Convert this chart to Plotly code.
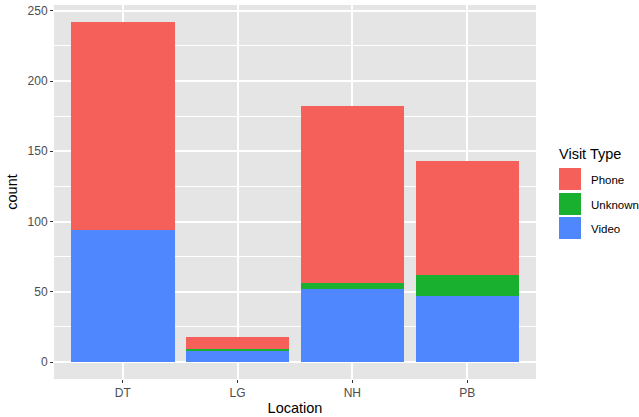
import plotly.graph_objects as go

locations = ["DT", "LG", "NH", "PB"]
visit_types = ["Phone", "Unknown", "Video"]
phone = [148, 9, 126, 81]
unknown = [0, 1, 4, 15]
video = [94, 8, 52, 47]
colors = {"Phone": "#F5605B", "Unknown": "#19B02F", "Video": "#4F87FF"}
y_ticks = [0, 50, 100, 150, 200, 250]

W, H = 639, 417
L, R, T, B = 54, 536, 5, 379

fig = go.Figure()
series = {"Phone": phone, "Unknown": unknown, "Video": video}
for vt in ["Video", "Unknown", "Phone"]:
    fig.add_trace(go.Bar(x=locations, y=series[vt], name=vt, width=0.9,
                         marker=dict(color=colors[vt], line=dict(width=0)),
                         showlegend=False))

totals = [p + u + v for p, u, v in zip(phone, unknown, video)]
ymax = max(totals)
pad = ymax * 0.05

def px(x):
    return (x - L) / (R - L)

def py(y):
    return (B - y) / (B - T)

shapes = []
annotations = []
annotations.append(dict(text="Visit Type", x=px(557), y=py(154), xref="paper", yref="paper",
                        xanchor="left", yanchor="middle", showarrow=False,
                        font=dict(size=14.5, color="#000000", family="Liberation Sans, Arial")))
key_tops = [168, 193, 217]
for i, vt in enumerate(visit_types):
    t0 = key_tops[i]
    shapes.append(dict(type="rect", xref="paper", yref="paper",
                       x0=px(559), x1=px(581), y0=py(t0), y1=py(t0 + 22),
                       fillcolor=colors[vt], line=dict(width=0)))
    annotations.append(dict(text=vt, x=px(589), y=py(t0 + 12), xref="paper", yref="paper",
                            xanchor="left", yanchor="middle", showarrow=False,
                            font=dict(size=11.5, color="#000000", family="Liberation Sans, Arial")))

fig.update_layout(
    width=W, height=H,
    margin=dict(l=L, r=W - R, t=T, b=H - B, autoexpand=False),
    barmode="stack",
    bargap=0.1,
    plot_bgcolor="#E5E5E5",
    paper_bgcolor="#FFFFFF",
    font=dict(family="Liberation Sans, Arial", color="#4D4D4D", size=12),
    shapes=shapes,
    annotations=annotations,
    xaxis=dict(
        type="category", range=[-0.6, 3.6], showgrid=True, gridcolor="#FFFFFF", gridwidth=1.6,
        ticks="outside", ticklen=3, tickcolor="#333333", tickwidth=1, automargin=False,
        tickfont=dict(size=12, color="#4D4D4D"), zeroline=False, showline=False,
        title=dict(text="Location", font=dict(size=14.5, color="#000000"), standoff=3),
    ),
    yaxis=dict(
        range=[-pad, ymax + pad], tickvals=y_ticks, showgrid=True, gridcolor="#FFFFFF", gridwidth=1.6,
        minor=dict(dtick=25, tick0=25, showgrid=True, gridcolor="#FFFFFF", gridwidth=0.8),
        ticks="outside", ticklen=3, tickcolor="#333333", tickwidth=1, automargin=False,
        tickfont=dict(size=12, color="#4D4D4D"), zeroline=False, showline=False,
        title=dict(text="count", font=dict(size=14.5, color="#000000"), standoff=6),
    ),
)

fig.write_html("out.html", config={"displayModeBar": False},
               post_script="document.body.style.margin='0';document.body.style.overflow='hidden';")
